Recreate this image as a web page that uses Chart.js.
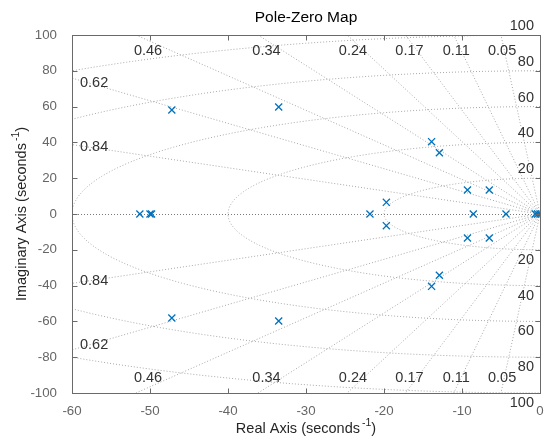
<!DOCTYPE html>
<html>
<head>
<meta charset="utf-8">
<script src="https://cdn.jsdelivr.net/npm/chart.js@4.4.1/dist/chart.umd.min.js"></script>
<style>
  body { margin: 0; background: #fff; }
  #wrap { width: 547px; height: 441px; }
</style>
</head>
<body>
<div id="wrap"><canvas id="pzChart" width="547" height="441"></canvas></div>
<script>
// Data
const poleRe = [-51.3, -50.0, -49.8, -47.2, -47.2, -33.5, -33.5, -21.8, -19.7, -19.7,
  -13.9, -13.9, -12.9, -12.9, -9.3, -9.3, -8.55, -6.5, -6.5, -4.36, -0.6, -0.3, 0]
const poleIm = [0, 0, 0, 58.1, -58.1, 59.8, -59.8, 0, 6.5, -6.5,
  40.4, -40.4, 34.2, -34.2, 13.4, -13.4, 0, 13.4, -13.4, 0, 0, 0, 0]

const xTicks = [-60, -50, -40, -30, -20, -10, 0]
const yTicks = [-100, -80, -60, -40, -20, 0, 20, 40, 60, 80, 100]

// grid: damping ratios and natural frequencies
const zetaValues = [0.05, 0.11, 0.17, 0.24, 0.34, 0.46, 0.62, 0.84]
const wnValues = [20, 40, 60, 80, 100]

const FONT = "'Liberation Sans', Arial, sans-serif"
const axisColor = "#6a6a6a"

const poles = poleRe.map((re, i) => ({ x: re, y: poleIm[i] }))

// Draws the damping / frequency grid under the poles, text and box on top
const pzGrid = {
  id: "pzGrid",
  beforeDatasetsDraw(chart) {
    const { ctx, chartArea: a, scales: { x, y } } = chart
    ctx.save()
    ctx.beginPath()
    ctx.rect(a.left, a.top, a.width, a.height)
    ctx.clip()
    ctx.lineWidth = 1
    ctx.setLineDash([1, 2])
    ctx.strokeStyle = "#a8a8a8"

    // natural frequency semicircles
    wnValues.forEach((wn) => {
      ctx.beginPath()
      for (let i = 0; i <= 360; i++) {
        const th = Math.PI / 2 + (Math.PI * i) / 360
        const px = x.getPixelForValue(wn * Math.cos(th))
        const py = y.getPixelForValue(wn * Math.sin(th))
        if (i === 0) ctx.moveTo(px, py)
        else ctx.lineTo(px, py)
      }
      ctx.stroke()
    })

    // damping ratio rays
    const x0 = x.getPixelForValue(0)
    const y0 = y.getPixelForValue(0)
    zetaValues.forEach((z) => {
      const s = Math.sqrt(1 - z * z)
      ;[1, -1].forEach((sign) => {
        ctx.beginPath()
        ctx.moveTo(x0, y0)
        ctx.lineTo(x.getPixelForValue(-z * 400), y.getPixelForValue(sign * s * 400))
        ctx.stroke()
      })
    })

    // real axis
    ctx.strokeStyle = "#7a7a7a"
    ctx.beginPath()
    ctx.moveTo(a.left, Math.round(y0) + 0.5)
    ctx.lineTo(a.right, Math.round(y0) + 0.5)
    ctx.stroke()
    ctx.restore()
  },
  afterDatasetsDraw(chart) {
    const { ctx, chartArea: a, scales: { x, y } } = chart
    ctx.save()

    // damping labels
    ctx.fillStyle = "#333"
    ctx.font = `14.5px ${FONT}`
    zetaValues.forEach((z) => {
      const s = Math.sqrt(1 - z * z)
      const label = String(z)
      const crossX = (-z / s) * 100
      if (crossX >= x.min) {
        const lx = x.getPixelForValue((-z / s) * 97)
        ctx.textAlign = "center"
        ctx.textBaseline = "middle"
        ctx.fillText(label, lx, a.top + 15.5)
        ctx.fillText(label, lx, a.bottom - 15)
      } else {
        const yv = (s / z) * 58
        ctx.textAlign = "left"
        ctx.textBaseline = "middle"
        ctx.fillText(label, a.left + 8, y.getPixelForValue(yv))
        ctx.fillText(label, a.left + 8, y.getPixelForValue(-yv))
      }
    })

    // frequency labels
    ctx.textAlign = "right"
    wnValues.forEach((wn) => {
      ctx.fillText(String(wn), a.right - 6, y.getPixelForValue(wn) - 9)
      ctx.fillText(String(wn), a.right - 6, y.getPixelForValue(-wn) + 10)
    })

    // box and inward ticks
    ctx.strokeStyle = axisColor
    ctx.lineWidth = 1
    const L = Math.round(a.left) + 0.5
    const R = Math.round(a.right) + 0.5
    const T = Math.round(a.top) + 0.5
    const B = Math.round(a.bottom) + 0.5
    ctx.strokeRect(L, T, R - L, B - T)
    ctx.beginPath()
    xTicks.forEach((v) => {
      const px = Math.round(x.getPixelForValue(v)) + 0.5
      ctx.moveTo(px, B); ctx.lineTo(px, B - 5)
      ctx.moveTo(px, T); ctx.lineTo(px, T + 5)
    })
    yTicks.forEach((v) => {
      const py = Math.round(y.getPixelForValue(v)) + 0.5
      ctx.moveTo(L, py); ctx.lineTo(L + 5, py)
      ctx.moveTo(R, py); ctx.lineTo(R - 5, py)
    })
    ctx.stroke()

    // title
    const cx = (a.left + a.right) / 2
    ctx.fillStyle = "#000"
    ctx.font = `15.5px ${FONT}`
    ctx.textAlign = "center"
    ctx.textBaseline = "middle"
    ctx.fillText("Pole-Zero Map", cx, 18)

    // axis titles with superscript
    const drawAxisTitle = (main, sup, px, py, rot) => {
      ctx.save()
      ctx.translate(px, py)
      ctx.rotate(rot)
      ctx.fillStyle = "#262626"
      ctx.font = `14.5px ${FONT}`
      const w1 = ctx.measureText(main).width
      ctx.font = `10.5px ${FONT}`
      const w2 = ctx.measureText(sup).width
      ctx.font = `14.5px ${FONT}`
      let sx = -(w1 + w2 + ctx.measureText(")").width + 2) / 2
      ctx.textAlign = "left"
      ctx.textBaseline = "middle"
      ctx.fillText(main, sx, 0)
      ctx.font = `10.5px ${FONT}`
      ctx.fillText(sup, sx + w1 + 2, -6)
      ctx.font = `14.5px ${FONT}`
      ctx.fillText(")", sx + w1 + w2 + 2, 0)
      ctx.restore()
    }
    drawAxisTitle("Real Axis (seconds", "-1", cx, 429, 0)
    drawAxisTitle("Imaginary Axis (seconds", "-1", 22, (a.top + a.bottom) / 2, -Math.PI / 2)

    ctx.restore()
  },
}

const ctx = document.getElementById("pzChart").getContext("2d")

const pzChart = new Chart(ctx, {
  type: "scatter",
  data: {
    datasets: [
      {
        label: "Poles",
        data: poles,
        pointStyle: "crossRot",
        pointRadius: 5,
        pointHoverRadius: 5,
        borderColor: "#0072BD",
        backgroundColor: "#0072BD",
        borderWidth: 1.3,
      },
    ],
  },
  options: {
    responsive: false,
    animation: false,
    layout: {
      padding: { top: 35, right: 7, left: 0, bottom: 0 },
    },
    plugins: {
      legend: { display: false },
      title: { display: false },
      tooltip: { enabled: false },
    },
    scales: {
      x: {
        type: "linear",
        min: -60,
        max: 0,
        afterBuildTicks: (scale) => {
          scale.ticks = xTicks.map((v) => ({ value: v }))
        },
        afterFit: (scale) => {
          scale.height = 48
        },
        grid: { display: false },
        border: { display: false },
        ticks: {
          color: "#666",
          padding: 2,
          font: { family: FONT, size: 13.3 },
        },
      },
      y: {
        type: "linear",
        min: -100,
        max: 100,
        afterBuildTicks: (scale) => {
          scale.ticks = yTicks.map((v) => ({ value: v }))
        },
        afterFit: (scale) => {
          scale.width = 72
        },
        grid: { display: false },
        border: { display: false },
        ticks: {
          color: "#666",
          padding: 7,
          font: { family: FONT, size: 13.3 },
        },
      },
    },
  },
  plugins: [pzGrid],
})
</script>
</body>
</html>
